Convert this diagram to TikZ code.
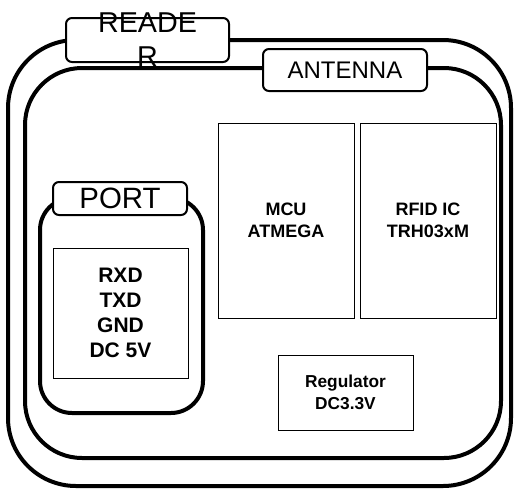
\documentclass[tikz,border=0pt]{standalone}
\usepackage{fontspec}
\setmainfont{Liberation Sans}
\begin{document}
\begin{tikzpicture}[x=1pt, y=-1pt,
	frame/.style={draw, line width=4pt, rectangle, inner sep=0pt},
	tag/.style={draw, fill=white, line width=2pt, rectangle, rounded corners=6pt, inner sep=0pt},
	chip/.style={draw, line width=1pt, rectangle, inner sep=0pt, align=center, font=\bfseries}]
		\useasboundingbox (0,0) rectangle (517,488);
		
		\node[frame, rounded corners=68pt, minimum width=503pt, minimum height=446pt] (R) at (259.5,263) {};
		\node[frame, rounded corners=57pt, minimum width=476pt, minimum height=390pt] (B) at (263,263) {};
		\node[frame, rounded corners=32pt, minimum width=163pt, minimum height=215pt] (P) at (121.5,305.5) {};
		
		\node[tag, minimum width=163pt, minimum height=44pt] (RL) at (147.5,40) {};
		\node[align=center, font=\fontsize{28.7}{34}\selectfont] (RT) at (RL.center) {READE\\R};
		\node[tag, minimum width=164pt, minimum height=42pt, font=\fontsize{24}{28}\selectfont] (AL) at (345,70) {ANTENNA};
		\node[tag, minimum width=134pt, minimum height=33pt, font=\fontsize{29.4}{34}\selectfont] (PL) at (120,198.5) {PORT};
		
		\node[chip, minimum width=135pt, minimum height=130pt, font=\bfseries\fontsize{21}{25}\selectfont] (PINS) at (120.5,313) {RXD\\TXD\\GND\\DC 5V};
		\node[chip, minimum width=136pt, minimum height=195pt, font=\bfseries\fontsize{18}{21.7}\selectfont] (MCU) at (286,220.5) {MCU\\ATMEGA};
		\node[chip, minimum width=136pt, minimum height=195pt, font=\bfseries\fontsize{18}{21.7}\selectfont] (RFID) at (428,220.5) {RFID IC\\TRH03xM};
		\node[chip, minimum width=135pt, minimum height=75pt, font=\bfseries\fontsize{17.3}{22}\selectfont] (REG) at (345.5,392.5) {Regulator\\DC3.3V};
		\end{tikzpicture}
\end{document}
